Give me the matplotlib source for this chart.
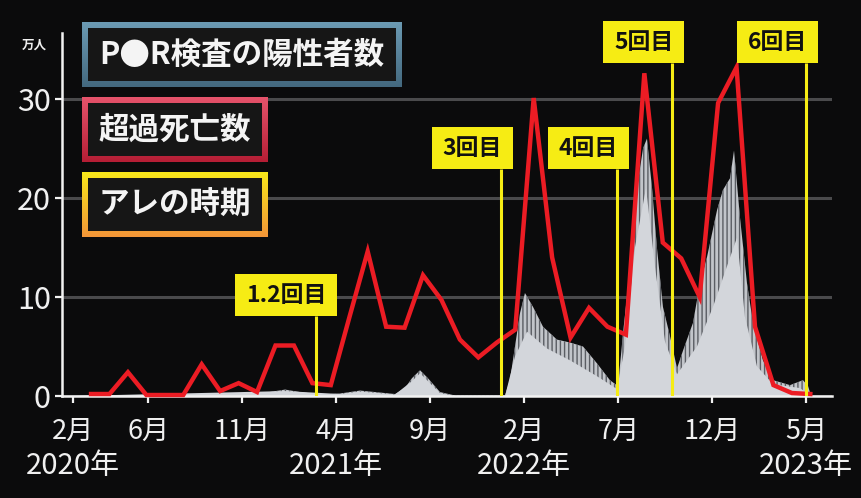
import numpy as np
import matplotlib
matplotlib.use("Agg")
import matplotlib.pyplot as plt
from matplotlib.patches import Rectangle
from matplotlib.transforms import blended_transform_factory

plt.rcParams['font.family'] = ['Noto Sans CJK JP', 'DejaVu Sans']
plt.rcParams['hatch.linewidth'] = 1.0

# ---------------- data ----------------
# x axis unit: months since Feb 2020
month_ticks = [0, 4, 9, 14, 19, 24, 29, 34, 39]
month_labels = ['2月', '6月', '11月', '4月', '9月', '2月', '7月', '12月', '5月']
year_ticks = [0, 14, 24, 39]
year_labels = ['2020年', '2021年', '2022年', '2023年']

# PCR positives (万人) – upper envelope (daily peaks)
pcr_x = [0.0, 1.97, 4.10, 6.22, 8.35, 9.95, 11.28, 12.07, 13.14, 14.2, 15.27, 16.06,
         17.13, 17.66, 18.03, 18.46, 18.88, 19.52, 20.32, 22.98, 23.24, 23.78, 24.04,
         24.47, 25.0, 25.74, 26.44, 27.13, 27.87, 28.56, 28.99, 29.26, 29.63, 30.0,
         30.32, 30.53, 30.8, 31.06, 31.38, 31.76, 32.13, 32.45, 32.98, 33.35, 33.72,
         34.26, 34.57, 34.95, 35.16, 35.48, 35.85, 36.17, 36.7, 37.23, 38.14, 38.83,
         39.1, 39.26]
pcr_hi = [0, 0.05, 0.1, 0.15, 0.1, 0.25, 0.65, 0.4, 0.15, 0.25, 0.55, 0.4,
          0.2, 0.8, 1.8, 2.6, 1.8, 0.4, 0.05, 0.05, 1.6, 8.4, 10.4,
          9.0, 7.0, 5.7, 5.4, 5.0, 3.3, 1.6, 1.0, 6.4, 13, 21,
          25, 26, 21, 15, 9, 6, 2.8, 4.6, 7.4, 11.4, 14,
          18.8, 20.8, 22, 24.8, 18, 11.4, 7.4, 3.6, 1.6, 1.1, 1.6,
          1.0, 0]
# PCR positives – lower envelope (weekly troughs)
pcr_lo_x = [0.0, 11.28, 14.2, 15.27, 17.13, 18.03, 18.46, 18.88, 19.52, 20.32, 22.98,
            23.51, 24.15, 25.21, 26.44, 27.87, 28.94, 29.36, 29.89, 30.48, 30.96,
            31.49, 32.13, 33.19, 34.04, 34.95, 35.32, 35.74, 36.38, 37.23, 38.67, 39.26]
pcr_lo = [0, 0.5, 0.2, 0.45, 0.15, 1.5, 2.3, 1.5, 0.3, 0, 0,
          4.0, 6.5, 4.8, 3.6, 2.0, 0.7, 5, 15, 21, 13,
          5.5, 2.2, 5.0, 9.0, 14, 16, 8, 3.0, 1.2, 0.8, 0]

# Excess deaths (万人), monthly from Mar 2020
death_vals = [0.2, 0.2, 2.4, 0.1, 0.1, 0.1, 3.2, 0.5, 1.3, 0.4,
              5.1, 5.1, 1.3, 1.1, 7.9, 14.6, 7.0, 6.9, 12.2, 9.7,
              5.7, 3.9, 5.4, 6.7, 30.1, 14.0, 5.9, 8.9, 7.0, 6.2,
              32.6, 15.5, 13.9, 10.0, 29.6, 33.2, 7.0, 1.1, 0.3, 0.2]
death_start, death_step = 0.96, 0.981

# Vaccination timings
vax_labels = ['1.2回目', '3回目', '4回目', '5回目', '6回目']
vax_pos = [12.93, 22.75, 28.94, 31.87, 38.99]
vax_label_y = [8.08, 22.9, 22.9, 33.6, 33.6]

legend_texts = ['P●R検査の陽性者数', '超過死亡数', 'アレの時期']

# ---------------- figure ----------------
W, H = 862, 498
BG = '#0b0b0c'
fig = plt.figure(figsize=(W / 100, H / 100), dpi=100, facecolor=BG)

PX_PER_MONTH = 18.8
X0_PX = 73
PX_PER_UNIT = 9.9


def m(px):
    return (px - X0_PX) / PX_PER_MONTH


def fbox(x0, y0, x1, y1):
    return [x0 / W, 1 - y1 / H, (x1 - x0) / W, (y1 - y0) / H]


ax = fig.add_axes(fbox(62, 33, 832, 396))
ax.set_facecolor('none')
ax.set_xlim(m(62), m(832))
ax.set_ylim(0, (396 - 33) / PX_PER_UNIT)

for s in ['top', 'right']:
    ax.spines[s].set_visible(False)
for s in ['left', 'bottom']:
    ax.spines[s].set_color('#f2f2f2')
    ax.spines[s].set_linewidth(1.8)

ax.set_yticks([0, 10, 20, 30])
ax.set_yticklabels(['0', '10', '20', '30'])
ax.tick_params(axis='y', colors='#f2f2f2', length=5, width=1.6, pad=3,
               labelsize=22, labelcolor='#f0f0f0')
ax.set_xticks(month_ticks)
ax.set_xticklabels(month_labels)
ax.tick_params(axis='x', colors='#f2f2f2', length=5, width=1.6, pad=11,
               labelsize=19.5, labelcolor='#f0f0f0')

ax.yaxis.grid(True, color='#4a4a4c', linewidth=2.2)
ax.set_axisbelow(True)

# PCR area
ax.fill_between(pcr_x, 0, pcr_hi, facecolor='#c2c5ca', edgecolor='#5a5d63',
                hatch='||||', linewidth=0, zorder=2)
ax.fill_between(pcr_lo_x, 0, pcr_lo, facecolor='#d3d6db', edgecolor='none',
                linewidth=0, zorder=2.1)

# excess deaths
death_x = death_start + death_step * np.arange(len(death_vals))
ax.plot(death_x, death_vals, color='#ec1c24', lw=3.2, zorder=4,
        solid_joinstyle='miter', clip_on=False)

# vaccination lines & labels
YEL = '#f6ec14'
for lab, xp, yl in zip(vax_labels, vax_pos, vax_label_y):
    ax.vlines(xp, 0, yl, color=YEL, lw=2.2, zorder=5)
    if lab == '1.2回目':
        w_px, off_px = 102, 81
    else:
        w_px, off_px = 81, 69
    left = xp - off_px / PX_PER_MONTH
    width = w_px / PX_PER_MONTH
    height = 42 / PX_PER_UNIT
    ax.add_patch(Rectangle((left, yl), width, height, facecolor=YEL,
                           edgecolor='none', zorder=6, clip_on=False))
    ax.text(left + width / 2, yl + height / 2, lab, ha='center', va='center',
            fontsize=16.5, fontweight='bold', color='#111111', zorder=7,
            clip_on=False)

# year labels
tr = blended_transform_factory(ax.transData, fig.transFigure)
for xt, yl in zip(year_ticks, year_labels):
    ax.text(xt, 1 - 466 / H, yl, transform=tr, ha='center', va='center',
            fontsize=21, color='#f0f0f0', clip_on=False)

# unit label
fig.text(34 / W, 1 - 45 / H, '万人', ha='center', va='center', fontsize=9,
         fontweight='bold', color='#f0f0f0')

# legend boxes with gradient borders
legend_boxes = [(82, 22, 402, 87), (82, 97, 268, 162), (82, 172, 268, 237)]
legend_grads = [('#6c9bb4', '#44697f'), ('#e6546c', '#b51e35'), ('#f8e81a', '#f39638')]


def hex2rgb(h):
    h = h.lstrip('#')
    return np.array([int(h[i:i + 2], 16) / 255 for i in (0, 2, 4)])


for (x0, y0, x1, y1), (c_top, c_bot), txt in zip(legend_boxes, legend_grads, legend_texts):
    bax = fig.add_axes(fbox(x0, y0, x1, y1))
    bax.set_axis_off()
    t = np.linspace(0, 1, 64)[:, None]
    grad = (1 - t)[:, :, None] * hex2rgb(c_top)[None, None, :] + t[:, :, None] * hex2rgb(c_bot)[None, None, :]
    bax.imshow(grad, aspect='auto', extent=[0, 1, 0, 1], origin='upper')
    bw, bh = (x1 - x0), (y1 - y0)
    b = 6
    bax.add_patch(Rectangle((b / bw, b / bh), 1 - 2 * b / bw, 1 - 2 * b / bh,
                            transform=bax.transAxes, facecolor='#161616',
                            edgecolor='none'))
    bax.set_xlim(0, 1)
    bax.set_ylim(0, 1)
    bax.text(0.5, 0.5, txt, transform=bax.transAxes, ha='center', va='center',
             fontsize=22, fontweight='bold', color='#f4f4f4')

fig.savefig('out.png', dpi=100, facecolor=BG)
